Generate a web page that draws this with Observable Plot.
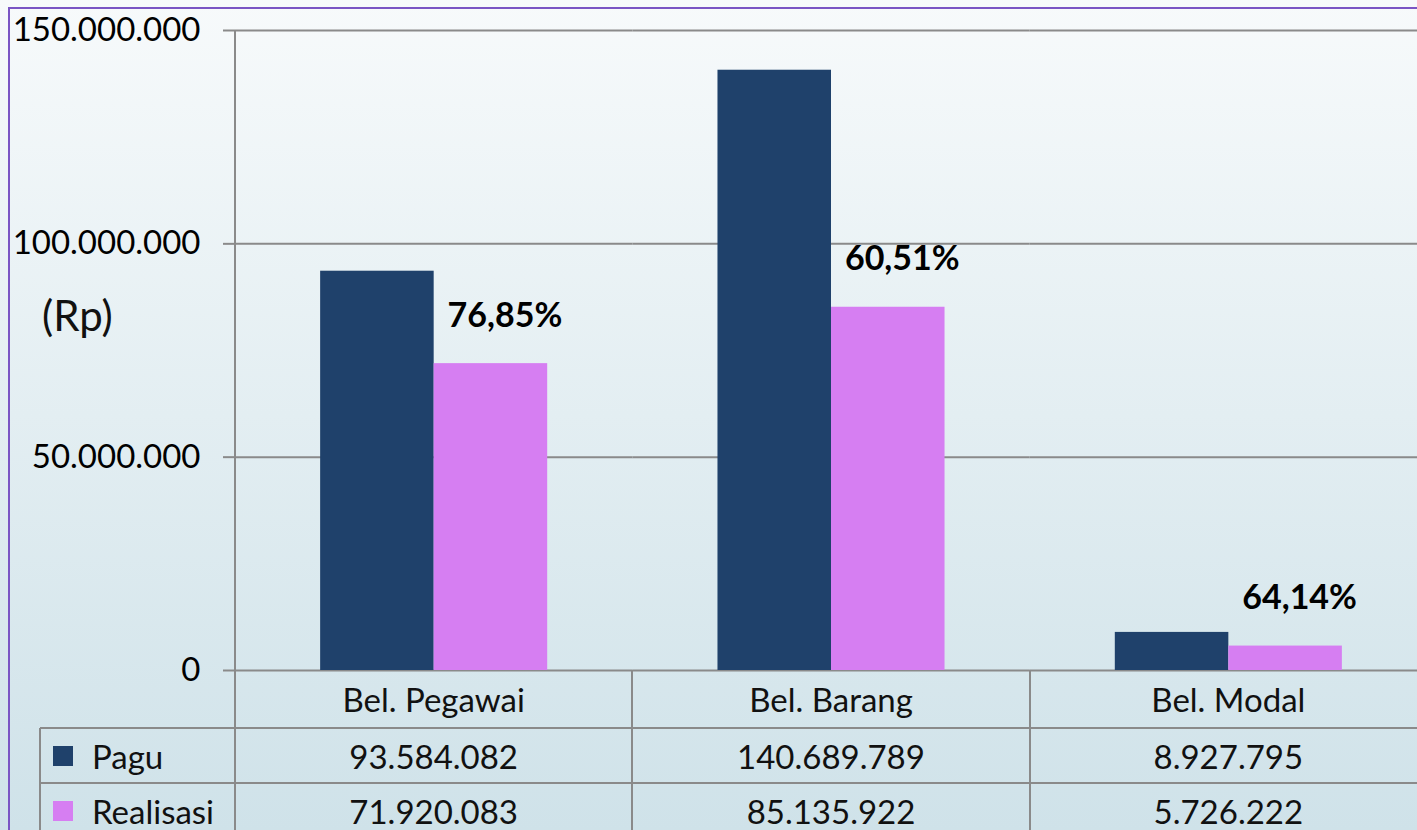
<!DOCTYPE html>
<html><head><meta charset="utf-8">
<script src="https://cdn.jsdelivr.net/npm/d3@7"></script>
<script src="https://cdn.jsdelivr.net/npm/@observablehq/plot@0.6"></script>
<style>
html,body{margin:0;padding:0;width:1417px;height:830px;overflow:hidden;}
body{background:linear-gradient(#f7fafb,#cfe2e9);font-family:Lato,sans-serif;position:relative;}
#frame{position:absolute;left:8px;top:7px;width:1500px;height:900px;border-left:2px solid #7a55c4;border-top:2px solid #7a55c4;box-sizing:border-box;}
#chart{position:absolute;left:0;top:0;width:1427px;}
#chart svg{max-width:none !important;}
.ln{position:absolute;background:#8a8a8a;}
.cell{position:absolute;font-size:33px;color:#111;display:flex;align-items:center;justify-content:center;white-space:nowrap;}
.sw{position:absolute;width:20px;height:20px;}
</style></head><body>
<div id="frame"></div>
<div id="chart"></div>
<script>
const categories = ["Bel. Pegawai", "Bel. Barang", "Bel. Modal"];
const series = ["Pagu", "Realisasi"];
const pagu = [93584082, 140689789, 8927795];
const realisasi = [71920083, 85135922, 5726222];
const yTicks = [0, 50000000, 100000000, 150000000];
const colors = ["#1f416b", "#d67ef2"];
const unitLabel = "(Rp)";

const loc = d3.formatLocale({decimal: ",", thousands: ".", grouping: [3], currency: ["Rp", ""]});
const fmt = loc.format(",");
const fmtPct = v => (v * 100).toFixed(2).replace(".", ",") + "%";

const rows = categories.flatMap((c, i) => [
  {cat: c, series: "Pagu", value: pagu[i]},
  {cat: c, series: "Realisasi", value: realisasi[i]}
]);
const pct = categories.map((c, i) => ({cat: c, series: "Realisasi", value: realisasi[i], label: fmtPct(realisasi[i] / pagu[i])}));

const plot = Plot.plot({
  width: 1427, height: 830,
  marginLeft: 235, marginRight: 0, marginTop: 30, marginBottom: 160,
  facet: {marginTop: 0, marginRight: 0, marginBottom: 0, marginLeft: 0},
  style: {background: "transparent", fontFamily: "Lato, sans-serif", fontSize: "33px", color: "#111", overflow: "visible"},
  fx: {domain: categories, padding: 0, axis: null, round: false},
  x: {domain: series, paddingInner: 0, paddingOuter: 0.75, axis: null, round: false},
  y: {domain: [0, 150000000], axis: null},
  color: {domain: series, range: colors},
  marks: [
    Plot.ruleY(yTicks, {stroke: "#8a8a8a", strokeWidth: 2}),
    Plot.barY(rows, {fx: "cat", x: "series", y: "value", fill: "series"}),
    Plot.text(pct, {fx: "cat", x: "series", y: "value", text: "label", dy: -48, dx: 14, fontWeight: "bold", fontSize: 34, fill: "#000"}),
    Plot.axisY({ticks: yTicks, tickFormat: fmt, tickSize: 12, tickPadding: 23, stroke: "#8a8a8a", strokeWidth: 2, fontSize: 33, fill: "#000", label: null, anchor: "left"})
  ]
});
plot.style.maxWidth = "none";
document.getElementById("chart").appendChild(plot);

const fx = plot.scale("fx");
const ys = plot.scale("y");
const bw = fx.bandwidth;
const yTop = ys.apply(150000000);
const y0 = ys.apply(0);
const rowTops = [y0, y0 + 58, y0 + 113];
const rowH = [58, 55, 55];
const legendLeft = 40;
const body = document.body;
function line(x, y, w, h) {
  const d = document.createElement("div");
  d.className = "ln";
  Object.assign(d.style, {left: x + "px", top: y + "px", width: w + "px", height: h + "px"});
  body.appendChild(d);
}
function cell(text, x, y, w, h, align, size) {
  const d = document.createElement("div");
  d.className = "cell";
  d.textContent = text;
  Object.assign(d.style, {left: x + "px", top: y + "px", width: w + "px", height: h + "px"});
  if (align) d.style.justifyContent = align;
  if (size) d.style.fontSize = size + "px";
  body.appendChild(d);
}
const firstX = fx.apply(categories[0]);
line(firstX - 1, yTop, 2, 900);
categories.forEach((c, i) => {
  const x = fx.apply(c);
  line(x + bw - 1, y0, 2, 900);
});
line(legendLeft, rowTops[1] - 1, 1500, 2);
line(legendLeft, rowTops[2] - 1, 1500, 2);
line(legendLeft - 1, rowTops[1], 2, 400);
categories.forEach((c, i) => {
  const x = fx.apply(c);
  cell(c, x, rowTops[0], bw, rowH[0]);
  cell(fmt(pagu[i]), x, rowTops[1], bw, rowH[1]);
  cell(fmt(realisasi[i]), x, rowTops[2], bw, rowH[2]);
});
series.forEach((s, j) => {
  const top = rowTops[j + 1];
  const sw = document.createElement("div");
  sw.className = "sw";
  Object.assign(sw.style, {left: (legendLeft + 13) + "px", top: (top + rowH[j + 1] / 2 - 10) + "px", background: colors[j]});
  body.appendChild(sw);
  cell(s, legendLeft + 52, top, 150, rowH[j + 1], "flex-start");
});
cell(unitLabel, 42, 290, 120, 50, "flex-start", 42);
</script>
</body></html>
